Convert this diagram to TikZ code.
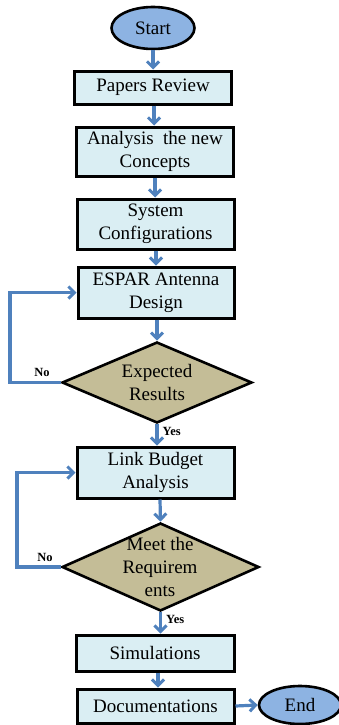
\documentclass[tikz,border=0pt]{standalone}
\usepackage{fontspec}
\setmainfont{Liberation Serif}
\usetikzlibrary{shapes.geometric,arrows.meta}
\definecolor{boxfill}{HTML}{DAEEF3}
\definecolor{decfill}{HTML}{C4BD97}
\definecolor{termfill}{HTML}{8DB3E2}
\definecolor{flow}{HTML}{4F81BD}
\tikzset{
  every node/.style={font=\fontsize{19}{23}\selectfont, text=black},
  stepbox/.style={draw=black, line width=3pt, fill=boxfill, rectangle,
    minimum width=157pt, inner sep=0pt, align=center},
  decision/.style={draw=black, line width=2.6pt, fill=decfill, diamond,
    inner sep=0pt},
  dectext/.style={align=center, inner sep=0pt},
  terminal/.style={draw=black, line width=2.6pt, fill=termfill, ellipse,
    inner sep=0pt},
  flowline/.style={draw=flow, line width=3.2pt,
    -{Straight Barb[length=6pt,width=12pt,line width=3pt]}},
  answer/.style={font=\fontsize{12.5}{14}\selectfont\bfseries, inner sep=1pt}
}
\begin{document}
\begin{tikzpicture}[x=1pt,y=-1pt]
  \useasboundingbox (0,0) rectangle (339,725);
  \clip (0,0) rectangle (339,725);

  % terminals
  \node[terminal, minimum width=83pt, minimum height=42pt] (start) at (153,28) {Start};
  \node[terminal, minimum width=82pt, minimum height=38pt] (end) at (300,705) {End};

  % process steps
  \node[stepbox, minimum height=33pt] (papers) at (153,87.5) {Papers Review};
  \node[stepbox, minimum height=49pt] (analysis) at (155,151.5) {Analysis\ \ the new\\Concepts};
  \node[stepbox, minimum height=50pt] (system) at (155.5,224) {System\\Configurations};
  \node[stepbox, minimum height=51pt, minimum width=156pt] (espar) at (156,292.5) {ESPAR Antenna\\Design};
  \node[stepbox, minimum height=51pt] (link) at (155.5,472.5) {Link Budget\\Analysis};
  \node[stepbox, minimum height=36pt, minimum width=158pt] (sim) at (155,653) {Simulations};
  \node[stepbox, minimum height=34pt] (doc) at (155.5,706) {Documentations};

  % decisions
  \node[decision, minimum width=190pt, minimum height=81pt] (expected) at (157,382.5) {};
  \node[dectext] (expectedtxt) at (157,382) {Expected\\Results};
  \node[decision, minimum width=197pt, minimum height=88pt] (meet) at (160.5,567) {};
  \node[dectext] (meettxt) at (160,567) {Meet the\\Requirem\\ents};

  % main flow
  \draw[flowline] (start.south) -- (start.south |- papers.north);
  \draw[flowline] (papers.south -| 154,0) -- (154,0 |- analysis.north);
  \draw[flowline] (analysis.south -| 155,0) -- (155,0 |- system.north);
  \draw[flowline] (system.south -| 156,0) -- (156,0 |- espar.north);
  \draw[flowline] (espar.south -| 157,0) -- (expected.north);
  \draw[flowline] (expected.south) -- (expected.south |- link.north)
    node[answer, pos=0.35, right=3pt] (yes1) {Yes};
  \draw[flowline] (link.south -| 160,0) -- (meet.north);
  \draw[flowline] (meet.south) -- (meet.south |- sim.north)
    node[answer, pos=0.35, right=3pt] (yes2) {Yes};
  \draw[flowline] (sim.south -| 158,0) -- (158,0 |- doc.north);
  \draw[flowline] (doc.east) -- (end.west);

  % feedback loops
  \coordinate (loopa) at (10,382.5);
  \coordinate (loopb) at (17,567);
  \draw[flowline] (expected.west) -- (loopa) -- (loopa |- espar.west) -- (espar.west);
  \draw[flowline] (meet.west) -- (loopb) -- (loopb |- link.west) -- (link.west);
  \node[answer] (no1) at (42,372) {No};
  \node[answer] (no2) at (45,557) {No};
\end{tikzpicture}
\end{document}
